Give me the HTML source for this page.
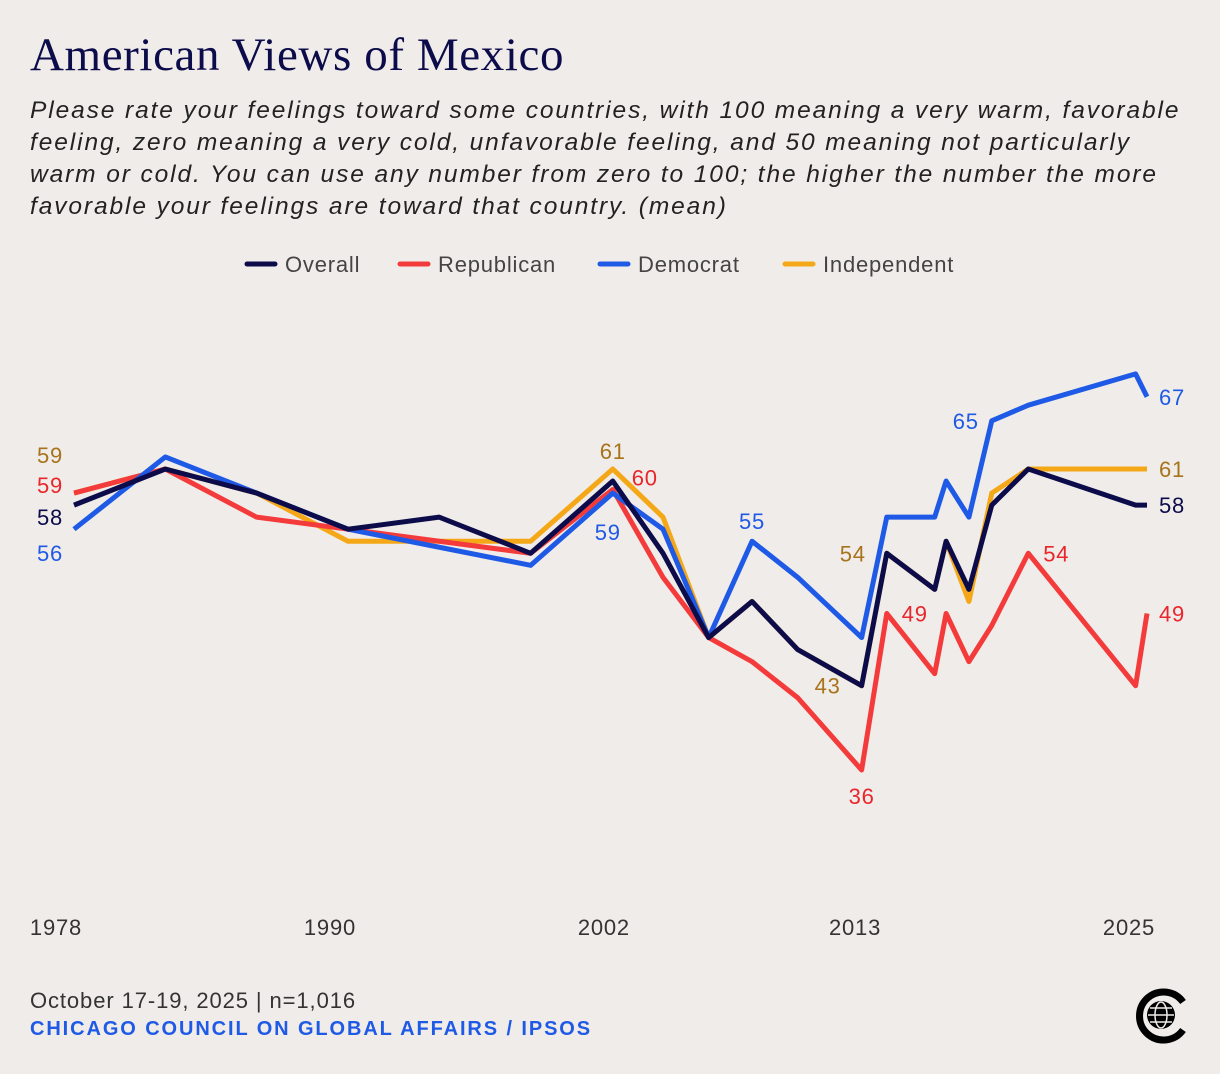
<!DOCTYPE html>
<html><head><meta charset="utf-8">
<style>
body{margin:0;background:#f0ece9;width:1220px;height:1074px;overflow:hidden;font-family:"Liberation Sans",sans-serif}
#t{position:absolute;left:30px;top:28px;font-family:"Liberation Serif",serif;font-size:47px;color:#0d0c4a;letter-spacing:0.6px}
#s{position:absolute;left:30px;top:95px;width:1190px;white-space:nowrap;font-style:italic;font-size:24.5px;line-height:32px;color:#222;letter-spacing:1.9px}
#f1{position:absolute;left:30px;top:988px;font-size:22px;color:#333;letter-spacing:0.9px}
#f2{position:absolute;left:30px;top:1018px;font-size:20px;color:#1f5ae6;font-weight:bold;letter-spacing:1.9px}
svg{position:absolute;left:0;top:0}
</style></head><body>
<div id="t">American Views of Mexico</div>
<div id="s">Please rate your feelings toward some countries, with 100 meaning a very warm, favorable<br>feeling, zero meaning a very cold, unfavorable feeling, and 50 meaning not particularly<br>warm or cold. You can use any number from zero to 100; the higher the number the more<br>favorable your feelings are toward that country. (mean)</div>
<div id="f1">October 17-19, 2025 | n=1,016</div>
<div id="f2">CHICAGO COUNCIL ON GLOBAL AFFAIRS / IPSOS</div>
<svg id="c" width="1220" height="1074">
<g>
<path d="M1183,1002 A24,24 0 1 0 1183,1030" fill="none" stroke="#000" stroke-width="7"/>
<circle cx="1161" cy="1015" r="14" fill="#000"/>
<g stroke="#f0ece9" stroke-width="1.5" fill="none"><ellipse cx="1161" cy="1015" rx="6" ry="13"/><line x1="1148" y1="1015" x2="1174" y2="1015"/><line x1="1150" y1="1008" x2="1172" y2="1008"/><line x1="1150" y1="1022" x2="1172" y2="1022"/></g>
</g>
</svg>
<script>
const years=[1978,1982,1986,1990,1994,1998,2001.6,2003.8,2005.8,2007.7,2009.7,2012.5,2013.6,2015.7,2016.2,2017.2,2018.2,2019.8,2024.5,2025];
const overall=[58,61,59,56,57,54,60,54,47,50,46,43,54,51,55,51,58,61,58,58];
const republican=[59,61,57,56,55,54,59.3,52,47,45,42,36,49,44,49,45,48,54,43,49];
const democrat=[56,62,59,56,54.5,53,59,56,47,55,52,47,57,57,60,57,65,66.3,68.9,67];
const independent=[59,61,59,55,55,55,61,57,47,50,46,43,54,51,55,50,59,61,61,61];
const tickYears=[1978,1990,2002,2013,2025];
const tickLabels=["1978","1990","2002","2013","2025"];
const NS="http://www.w3.org/2000/svg";
const svg=document.getElementById('c');
const x=y=>74+(y-1978)*22.83;
const yv=v=>469-(v-61)*12.04;
function mk(t,a){const e=document.createElementNS(NS,t);for(const k in a)e.setAttribute(k,a[k]);svg.appendChild(e);return e;}
function txt(s,xx,yy,col,anchor,name){const e=mk('text',{x:xx,y:yy,fill:col,'font-size':22,'letter-spacing':0.8,'text-anchor':anchor||'middle','font-family':'Liberation Sans, sans-serif'});e.textContent=s;

return e;}
tickYears.forEach((t,i)=>{txt(tickLabels[i],x(t)-18,935,'#333','middle','x-tick-label');});
const series=[["independent",independent,"#f5a817"],["republican",republican,"#f43b3b"],["democrat",democrat,"#1f5ae6"],["overall",overall,"#0d0c4a"]];
series.forEach(([n,d,c])=>{const p=mk('polyline',{points:d.map((v,i)=>x(years[i])+','+yv(v)).join(' '),fill:'none',stroke:c,'stroke-width':5,'stroke-linejoin':'round'});

});
const leg=[["Overall","#0d0c4a",247],["Republican","#f43b3b",400],["Democrat","#1f5ae6",600],["Independent","#f5a817",785]];
leg.forEach(([l,c,lx])=>{const r=mk('line',{x1:lx,y1:264,x2:lx+28,y2:264,stroke:c,'stroke-width':5,'stroke-linecap':'round'});


txt(l,lx+38,272,'#444','start','legend-entry');});
const L=(s,v,dx,dy,col,a)=>txt(s,v[0]+dx,v[1]+dy,col,a||'middle','value-label');
const gold="#a8731a",red="#e8262b",blue="#1f5ae6",navy="#0d0c4a";
const P=(arr,i)=>[x(years[i]),yv(arr[i])];
L(String(independent[0]),P(independent,0),-24,-30,gold);
L(String(republican[0]),P(republican,0),-24,0,red);
L(String(overall[0]),P(overall,0),-24,20,navy);
L(String(democrat[0]),P(democrat,0),-24,32,blue);
L(String(independent[6]),P(independent,6),0,-10,gold);
L("60",P(republican,6),32,-4,red);
L(String(democrat[6]),P(democrat,6),-5,47,blue);
L(String(democrat[9]),P(democrat,9),0,-12,blue);
L(String(independent[11]),P(independent,11),-34,8,gold);
L(String(republican[11]),P(republican,11),0,34,red);
L(String(independent[12]),P(independent,12),-34,8,gold);
L(String(republican[12]),P(republican,12),28,8,red);
L(String(democrat[16]),P(democrat,16),-26,8,blue);
L(String(republican[17]),P(republican,17),28,8,red);
L(String(democrat[19]),P(democrat,19),12,8,blue,'start');
L(String(independent[19]),P(independent,19),12,8,gold,'start');
L(String(overall[19]),P(overall,19),12,8,navy,'start');
L(String(republican[19]),P(republican,19),12,8,red,'start');
</script>
</body></html>
